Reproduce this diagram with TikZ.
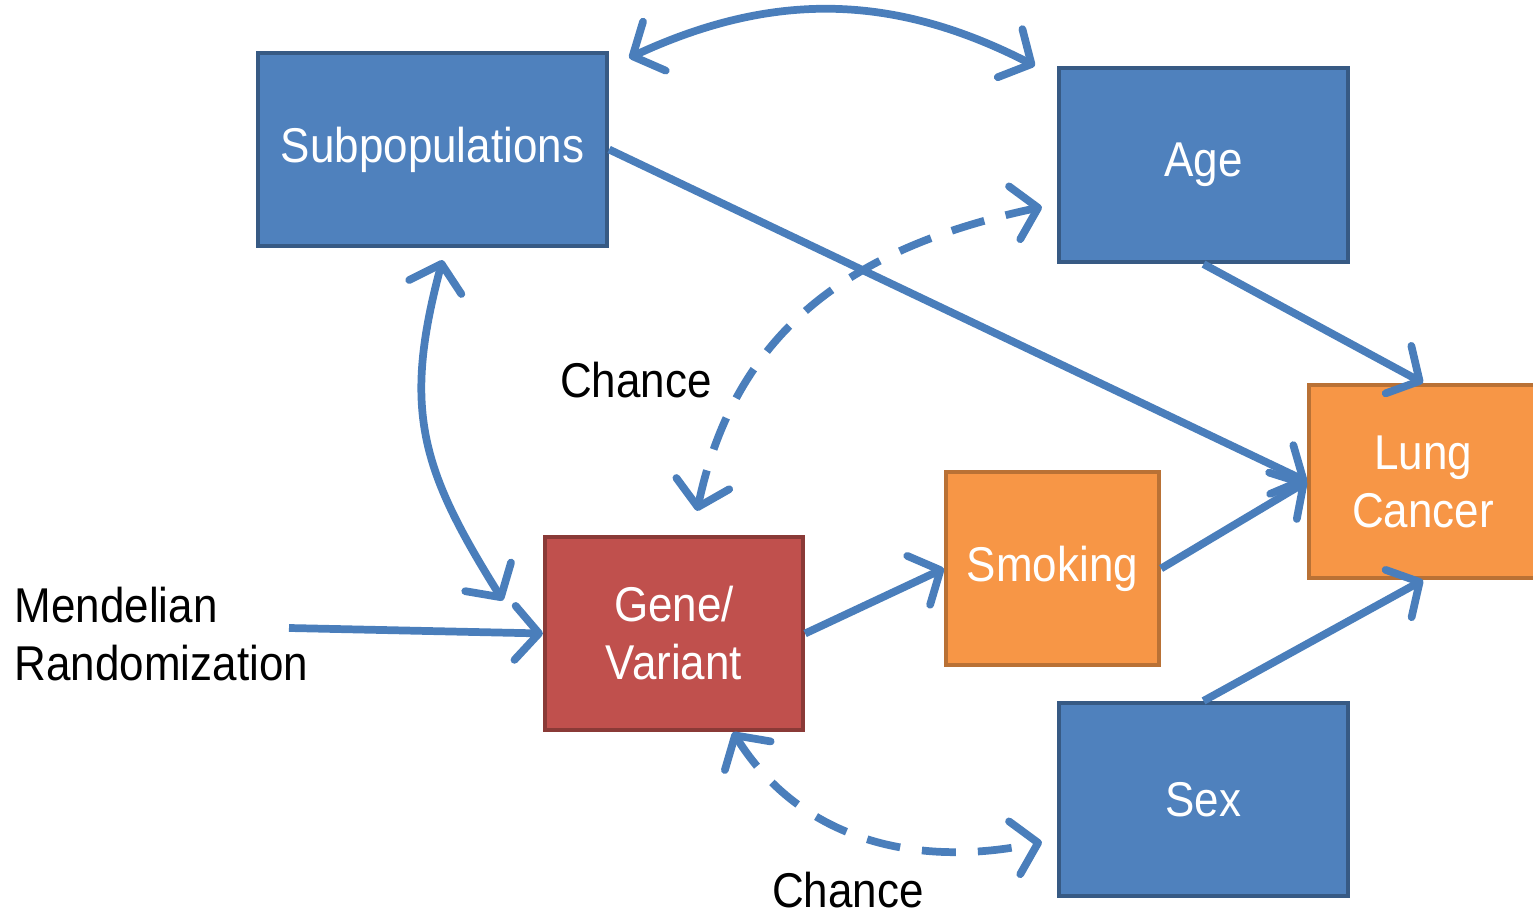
\documentclass[tikz,border=0pt]{standalone}
\usepackage{fontspec}
\setmainfont{Liberation Sans}[FakeStretch=0.9]
\usetikzlibrary{arrows.meta}
\definecolor{popblue}{HTML}{4F81BD}
\definecolor{genered}{HTML}{C0504D}
\definecolor{riskorange}{HTML}{F79646}
\definecolor{linkblue}{HTML}{4A7EBB}

\begin{document}
\begin{tikzpicture}[
  >={Straight Barb[length=2.4mm,width=5.4mm,round]},
  every node/.style={font=\fontsize{13.9}{16.5}\selectfont},
  box/.style={rectangle,line width=1.2pt,text=white,align=center,inner sep=0pt},
  bluebox/.style={box,fill=popblue,draw=popblue!70!black},
  orangebox/.style={box,fill=riskorange,draw=riskorange!75!black},
  redbox/.style={box,fill=genered,draw=genered!72!black},
  link/.style={draw=linkblue,line width=2.2pt},
  chance/.style={link,dash pattern=on 3.4mm off 2.2mm},
  label/.style={text=black,align=left},
]
\useasboundingbox (0,0) rectangle (15.33,9.15);

\node[bluebox,minimum width=3.49cm,minimum height=1.93cm] (sub) at (4.325,7.655) {Subpopulations};
\node[bluebox,minimum width=2.89cm,minimum height=1.94cm] (age) at (12.035,7.50) {Age};
\node[bluebox,minimum width=2.89cm,minimum height=1.93cm] (sex) at (12.035,1.155) {Sex};
\node[orangebox,minimum width=2.28cm,minimum height=1.93cm] (lung) at (14.23,4.335) {Lung\\Cancer};
\node[orangebox,minimum width=2.13cm,minimum height=1.93cm] (smoke) at (10.525,3.465) {Smoking};
\node[redbox,minimum width=2.58cm,minimum height=1.93cm] (gene) at (6.74,2.815) {Gene/\\Variant};

\node[label,anchor=west,inner sep=0pt] (mendel) at (0.14,2.81) {Mendelian\\Randomization};
\coordinate (mr) at (2.89,2.87);
\node[label] (chance1) at (6.36,5.35) {Chance};
\node[label,inner sep=1pt] (chance2) at (8.48,0.25) {Chance};

% causal paths
\draw[link,->] (sub.east) -- (lung.west);
\draw[link,->] (age.south) -- (lung.north);
\draw[link,->] (sex.north) -- (lung.south);
\draw[link,->] (smoke.east) -- (lung.west);
\draw[link,->] (gene.east) -- (smoke.west);
\draw[link,->] (mr) -- (gene.west);

% associations
\draw[link,<->] ([shift={(0.2,-0.07)}]sub.north east) to[bend left=26] ([xshift=-0.22cm]age.north west);
\draw[link,<->] ([shift={(0.1,-0.12)}]sub.south) to[out=-105,in=122,looseness=1.15] ([shift={(-0.4,0.33)}]gene.west);
\draw[chance,<->] ([shift={(0.23,0.24)}]gene.north) to[out=78,in=192,looseness=1.05] ([shift={(-0.15,-0.42)}]age.west);
\draw[chance,<->] ([xshift=0.59cm]gene.south) to[out=-58,in=192] ([shift={(-0.15,-0.425)}]sex.west);
\end{tikzpicture}
\end{document}
